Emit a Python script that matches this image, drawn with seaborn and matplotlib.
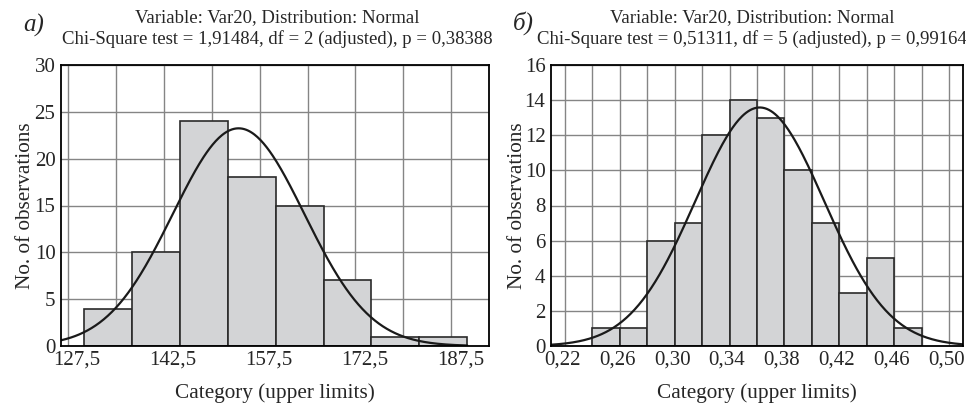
"""Two grouped histograms with fitted normal curves (STATISTICA style)."""

import numpy as np
import pandas as pd
import matplotlib
matplotlib.use("Agg")
import matplotlib.pyplot as plt
import matplotlib.transforms as mtransforms
from matplotlib.ticker import MultipleLocator, FixedLocator, FuncFormatter
import seaborn as sns

# panel а)
edges_a = [130.0, 137.5, 145.0, 152.5, 160.0, 167.5, 175.0, 182.5, 190.0]
counts_a = [4, 10, 24, 18, 15, 7, 1, 1]
mean_a, sd_a = 154.2, 10.3
ticks_a = [127.5, 142.5, 157.5, 172.5, 187.5]
title_a = ("Variable: Var20, Distribution: Normal\n"
           "Chi-Square test = 1,91484, df = 2 (adjusted), p = 0,38388")

# panel б)
edges_b = [0.24, 0.26, 0.28, 0.30, 0.32, 0.34, 0.36, 0.38, 0.40, 0.42, 0.44, 0.46, 0.48]
counts_b = [1, 1, 6, 7, 12, 14, 13, 10, 7, 3, 5, 1]
mean_b, sd_b = 0.362, 0.047
ticks_b = [0.22, 0.26, 0.30, 0.34, 0.38, 0.42, 0.46, 0.50]
title_b = ("Variable: Var20, Distribution: Normal\n"
           "Chi-Square test = 0,51311, df = 5 (adjusted), p = 0,99164")

sns.set_style("white")
plt.rcParams['font.family'] = ['Liberation Serif', 'DejaVu Serif']

BAR = "#d3d4d6"
EDGE = "#2a2a2a"
GRID = "#858585"


def draw_panel(ax, edges, counts, mean, sd, curve_range, xlim, ylim, ystep,
               ticks, gridstep, decimals, title, label_shift=0.0,
               title_shift=0.0, ylabelpad=0.0):
    e = np.asarray(edges)
    mids = (e[:-1] + e[1:]) / 2
    df = pd.DataFrame({"x": mids, "n": counts})
    ax.set_axisbelow(True)
    sns.histplot(data=df, x="x", weights="n", bins=list(edges), stat="count",
                 color=BAR, edgecolor=EDGE, linewidth=1.2, alpha=1.0, ax=ax)

    # expected counts under the fitted normal
    width = e[1] - e[0]
    xs = np.linspace(curve_range[0], curve_range[1], 400)
    ys = sum(counts) * width * np.exp(-0.5 * ((xs - mean) / sd) ** 2) / (sd * np.sqrt(2 * np.pi))
    sns.lineplot(x=xs, y=ys, color="#1a1a1a", linewidth=1.6, ax=ax)

    ax.set_xlim(*xlim)
    ax.set_ylim(*ylim)
    ax.xaxis.set_major_locator(FixedLocator(ticks))
    ax.xaxis.set_minor_locator(MultipleLocator(gridstep))
    ax.yaxis.set_major_locator(MultipleLocator(ystep))
    ax.xaxis.set_major_formatter(
        FuncFormatter(lambda v, p: f"{v:.{decimals}f}".replace(".", ",")))
    ax.grid(True, which="both", axis="x", color=GRID, linewidth=1.0)
    ax.grid(True, which="major", axis="y", color=GRID, linewidth=1.0)
    ax.tick_params(axis="both", which="both", length=0, labelsize=15)
    ax.tick_params(axis="x", pad=3.5)
    ax.tick_params(axis="y", pad=4)
    for sp in ax.spines.values():
        sp.set_visible(True)
        sp.set_color("black")
        sp.set_linewidth(1.3)

    ax.set_xlabel("Category (upper limits)", fontsize=15.3, labelpad=10)
    ax.set_ylabel("No. of observations", fontsize=15.3, labelpad=ylabelpad)
    ax.set_title(title, fontsize=13.5, pad=15, linespacing=1.3)
    ax.title.set_x(0.5 + title_shift / (ax.get_position().width * 966))

    if label_shift:
        off = mtransforms.ScaledTranslation(label_shift / 100, 0, ax.figure.dpi_scale_trans)
        for lab in ax.get_xticklabels():
            lab.set_transform(lab.get_transform() + off)


fig = plt.figure(figsize=(9.66, 4.05), dpi=100)
ax_a = fig.add_axes([61 / 966, 59 / 405, 428 / 966, 281 / 405])
ax_b = fig.add_axes([551 / 966, 59 / 405, 412 / 966, 281 / 405])

draw_panel(ax_a, edges_a, counts_a, mean_a, sd_a, (126.4, 190.0),
           (126.4, 193.4), (0, 30), 5, ticks_a, 7.5, 1, title_a,
           label_shift=9, title_shift=2, ylabelpad=0)
draw_panel(ax_b, edges_b, counts_b, mean_b, sd_b, (0.21, 0.51),
           (0.21, 0.51), (0, 16), 2, ticks_b, 0.02, 2, title_b,
           label_shift=-2.5, title_shift=-5, ylabelpad=-1.5)

fig.text(23 / 966, 1 - 25 / 405, "а)", fontsize=18, style="italic", va="center")
fig.text(513 / 966, 1 - 23 / 405, "б)", fontsize=18, style="italic", va="center")

fig.savefig("out.png", dpi=100)
